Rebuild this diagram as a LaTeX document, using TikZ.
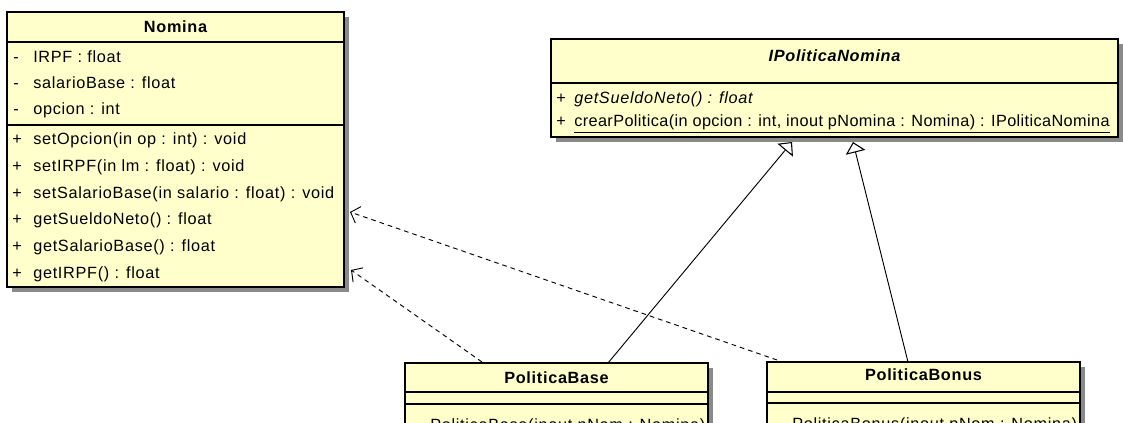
\documentclass[tikz,border=0pt]{standalone}
\usepackage{fontspec}
\setmainfont{Liberation Sans}[LetterSpace=4.3]
\usetikzlibrary{arrows.meta}
\definecolor{umlfill}{HTML}{FFFFCC}
\definecolor{umlshadow}{HTML}{8A8A8A}
\begin{document}
\begin{tikzpicture}[x=0.75pt,y=-0.75pt,
  classbox/.style={draw=black, line width=0.9pt, fill=umlfill, inner sep=0pt, outer sep=0pt, anchor=north west},
  shadowbox/.style={fill=umlshadow},
  sepline/.style={draw=black, line width=0.9pt},
  txt/.style={anchor=base west, inner sep=0pt, font=\fontsize{12.2}{14}\selectfont},
  ttl/.style={anchor=base, inner sep=0pt, font=\fontsize{12.2}{14}\selectfont\bfseries},
  dependency/.style={draw=black, line width=0.7pt, dash pattern=on 3.5pt off 3pt, -{Straight Barb[length=6pt, width=13pt, line width=0.7pt]}},
  realization/.style={draw=black, line width=0.7pt, -{Triangle[open, length=8pt, width=15pt, line width=0.8pt]}}
]
\useasboundingbox (0,0) rectangle (1123,423);
\clip (0,0) rectangle (1123,423);

% ---------- Nomina ----------
\fill[shadowbox] (12,17) rectangle (349,292);
\node[classbox, minimum width=252.75pt, minimum height=206.25pt] (nomina) at (7,12) {};
\draw[sepline] (7,42) -- (344,42);
\draw[sepline] (7,125) -- (344,125);
\node[ttl] (nomtitle) at (175.5,33) {Nomina};
\node[txt] (na1m) at (13,63) {-};
\node[txt] (na1) at (33,63) {IRPF : float};
\node[txt] (na2m) at (13,89) {-};
\node[txt] (na2) at (33,89) {salarioBase : float};
\node[txt] (na3m) at (13,115) {-};
\node[txt] (na3) at (33,115) {opcion : int};
\node[txt] (nm1m) at (12,145) {+};
\node[txt] (nm1) at (33,145) {setOpcion(in op : int) : void};
\node[txt] (nm2m) at (12,172) {+};
\node[txt] (nm2) at (33,172) {setIRPF(in lm : float) : void};
\node[txt] (nm3m) at (12,198.5) {+};
\node[txt] (nm3) at (33,198.5) {setSalarioBase(in salario : float) : void};
\node[txt] (nm4m) at (12,225) {+};
\node[txt] (nm4) at (33,225) {getSueldoNeto() : float};
\node[txt] (nm5m) at (12,252) {+};
\node[txt] (nm5) at (33,252) {getSalarioBase() : float};
\node[txt] (nm6m) at (12,278.5) {+};
\node[txt] (nm6) at (33,278.5) {getIRPF() : float};

% ---------- IPoliticaNomina ----------
\fill[shadowbox] (556,44) rectangle (1123,142);
\node[classbox, minimum width=425.25pt, minimum height=73.5pt] (ipol) at (551,39) {};
\draw[sepline] (551,83) -- (1118,83);
\node[ttl, font=\fontsize{12.2}{14}\selectfont\bfseries\itshape] (ipoltitle) at (834.5,62) {IPoliticaNomina};
\node[txt] (ip1m) at (556,104) {+};
\node[txt] (ip1) at (574,104) {\itshape getSueldoNeto() : float};
\node[txt] (ip2m) at (556,127) {+};
\node[txt] (ip2) at (574,127) {\addfontfeature{LetterSpace=2.4}\underline{crearPolitica(in opcion : int, inout pNomina : Nomina) : IPoliticaNomina}};

% ---------- PoliticaBase ----------
\fill[shadowbox] (410,368) rectangle (713,470);
\node[classbox, minimum width=227.25pt, minimum height=75pt] (pbase) at (405,363) {};
\draw[sepline] (405,392) -- (708,392);
\draw[sepline] (405,404) -- (708,404);
\node[ttl] (pbasetitle) at (556.5,383) {PoliticaBase};
\node[txt] (pb1m) at (411,430) {-};
\node[txt] (pb1) at (430,430) {PoliticaBase(inout pNom : Nomina)};

% ---------- PoliticaBonus ----------
\fill[shadowbox] (772,367) rectangle (1085,470);
\node[classbox, minimum width=234.75pt, minimum height=75pt] (pbonus) at (767,362) {};
\draw[sepline] (767,392) -- (1080,392);
\draw[sepline] (767,403) -- (1080,403);
\node[ttl] (pbonustitle) at (923.5,381) {PoliticaBonus};
\node[txt] (po1m) at (773,429) {-};
\node[txt] (po1) at (792,429) {PoliticaBonus(inout pNom : Nomina)};

% ---------- connector end points ----------
\coordinate (nomDepBonus) at (350,212);
\coordinate (nomDepBase) at (351,270);
\coordinate (baseDep) at (482,362);
\coordinate (bonusDep) at (777,360);
\coordinate (baseGen) at (608,363);
\coordinate (bonusGen) at (908,362);
\coordinate (ipolGenBase) at (792,142);
\coordinate (ipolGenBonus) at (853,142);

% ---------- connectors ----------
\draw[dependency] (bonusDep) -- (nomDepBonus);
\draw[dependency] (baseDep) -- (nomDepBase);
\draw[realization] (baseGen) -- (ipolGenBase);
\draw[realization] (bonusGen) -- (ipolGenBonus);
\end{tikzpicture}
\end{document}
